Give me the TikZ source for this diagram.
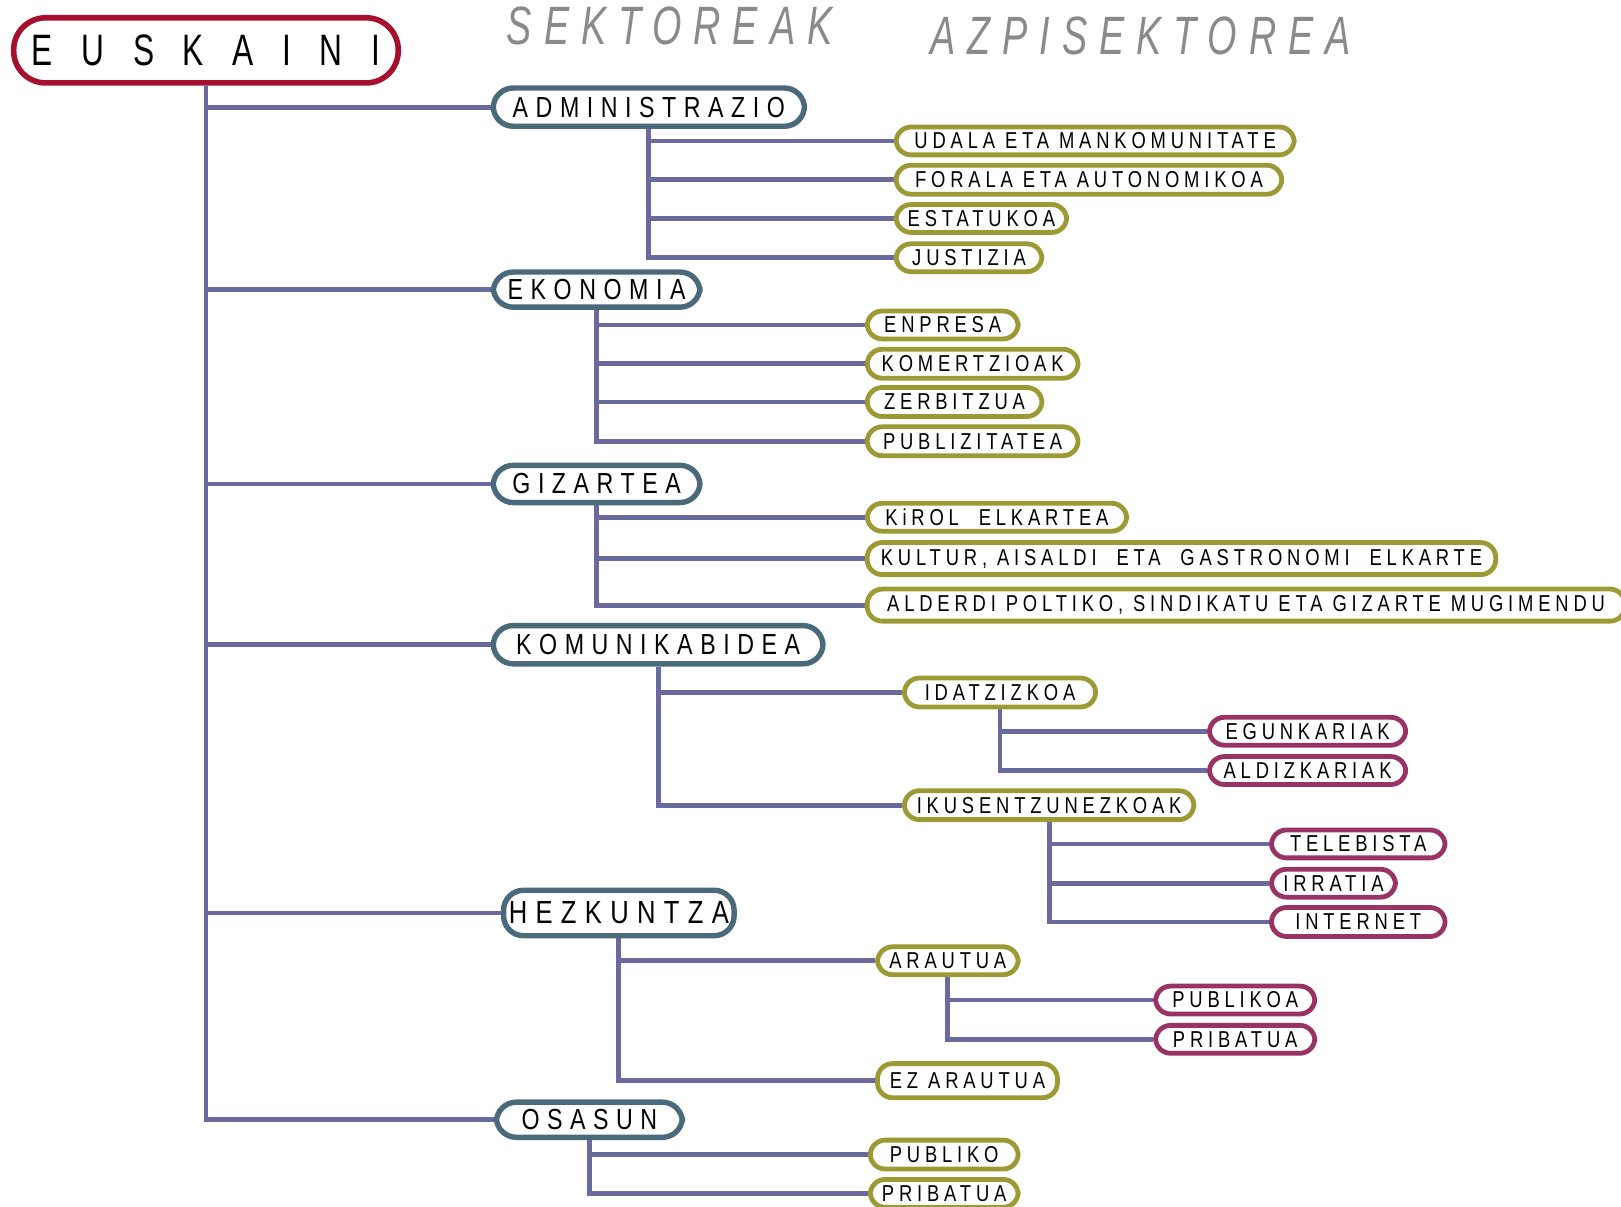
\documentclass[tikz,border=0pt]{standalone}
\usepackage{fontspec}
\setmainfont{Liberation Sans}
\newfontfamily\fEus{Liberation Sans}[FakeStretch=0.72,LetterSpace=65]
\newfontfamily\fSec{Liberation Sans}[FakeStretch=0.8,LetterSpace=26]
\newfontfamily\fSub{Liberation Sans}[FakeStretch=0.8,LetterSpace=21]
\newfontfamily\fHead{Liberation Sans}[FakeStretch=0.7,LetterSpace=22]
\usetikzlibrary{backgrounds}
\definecolor{redC}{RGB}{166,15,45}
\definecolor{secC}{RGB}{74,106,124}
\definecolor{oliveC}{RGB}{156,154,52}
\definecolor{magC}{RGB}{153,51,102}
\definecolor{lineC}{RGB}{107,106,158}
\definecolor{headC}{RGB}{138,138,138}
\newcommand\bx[7]{\node[#2, anchor=north west, minimum width={(#5-#3-5)*0.5169pt}, minimum height={(#6-#4-5)*0.5169pt}] (#1) at (#3+2.5,#4+2.5) {#7};}
\tikzset{
  conn/.style={draw=lineC, line width=2.4pt},
  boxbase/.style={fill=white, inner sep=0pt, text=black},
  eus/.style={boxbase, draw=redC, line width=2.8pt, rounded corners=16pt, font=\fEus\fontsize{22}{24}\selectfont},
  sec/.style={boxbase, draw=secC, line width=2.7pt, rounded corners=10pt, font=\fSec\fontsize{14.5}{16}\selectfont},
  subo/.style={boxbase, draw=oliveC, line width=2.4pt, rounded corners=7.5pt, font=\fSub\fontsize{11.5}{13}\selectfont},
  subm/.style={boxbase, draw=magC, line width=2.4pt, rounded corners=7.5pt, font=\fSub\fontsize{11.5}{13}\selectfont},
  head/.style={text=headC, anchor=west, inner sep=0pt, font=\fHead\itshape\fontsize{27}{30}\selectfont}
}
\begin{document}
\begin{tikzpicture}[x=0.5169pt,y=-0.5169pt]
\useasboundingbox (0,0) rectangle (1568,1167);
\clip (0,0) rectangle (1568,1167);
% headers
\node[head] (sek) at (490,25) {SEKTOREAK};
\node[head] (azp) at (900,35) {AZPISEKTOREA};
% root
\bx{eus}{eus}{8}{12}{385}{80}{EUSKAINI}
% sectors
\bx{adm}{sec}{472}{80}{778}{122}{ADMINISTRAZIO}
\bx{eko}{sec}{472}{258}{677}{297}{EKONOMIA}
\bx{giz}{sec}{472}{445}{677}{486}{GIZARTEA}
\bx{kom}{sec}{472}{600}{796}{642}{KOMUNIKABIDEA}
\bx{hez}{sec,font=\fSec\fontsize{16}{18}\selectfont}{482}{856}{710}{905}{HEZKUNTZA}
\bx{osa}{sec}{475}{1061}{660}{1100}{OSASUN}
% subsectors
\bx{udala}{subo}{862}{118}{1252}{150}{UDALA ETA MANKOMUNITATE}
\bx{foral}{subo}{862}{155}{1240}{188}{FORALA ETA AUTONOMIKOA}
\bx{estat}{subo}{862}{193}{1032}{225}{ESTATUKOA}
\bx{just}{subo}{862}{231}{1008}{263}{JUSTIZIA}
\bx{enpr}{subo}{834}{296}{985}{328}{ENPRESA}
\bx{kome}{subo}{834}{333}{1043}{366}{KOMERTZIOAK}
\bx{zerb}{subo}{834}{370}{1008}{403}{ZERBITZUA}
\bx{publ}{subo}{834}{408}{1043}{441}{PUBLIZITATEA}
\bx{kirol}{subo}{834}{482}{1090}{514}{KiROL\ \ ELKARTEA}
\bx{kult}{subo}{834}{520}{1447}{556}{KULTUR, AISALDI\ \ ETA\ \ GASTRONOMI\ \ ELKARTE}
\bx{alder}{subo}{834}{565}{1572}{601}{ALDERDI POLTIKO, SINDIKATU ETA GIZARTE MUGIMENDU}
\bx{idat}{subo}{870}{651}{1060}{684}{IDATZIZKOA}
\bx{ikus}{subo}{870}{760}{1155}{793}{IKUSENTZUNEZKOAK}
\bx{egun}{subm}{1165}{689}{1360}{721}{EGUNKARIAK}
\bx{aldiz}{subm}{1165}{727}{1360}{759}{ALDIZKARIAK}
\bx{tele}{subm}{1225}{798}{1398}{830}{TELEBISTA}
\bx{irra}{subm}{1225}{836}{1350}{868}{IRRATIA}
\bx{inte}{subm}{1225}{873}{1398}{906}{INTERNET}
\bx{arau}{subo}{844}{911}{985}{943}{ARAUTUA}
\bx{ezar}{subo}{844}{1024}{1023}{1062}{EZ ARAUTUA}
\bx{hpub}{subm}{1113}{949}{1272}{981}{PUBLIKOA}
\bx{hpri}{subm}{1113}{987}{1272}{1019}{PRIBATUA}
\bx{opub}{subo}{837}{1098}{985}{1131}{PUBLIKO}
\bx{opri}{subo}{837}{1136}{985}{1168}{PRIBATUA}
% connectors
\begin{scope}[on background layer]
\foreach \c in {adm,eko,giz,kom,hez,osa} \draw[conn] (eus.south) |- (\c.west);
\foreach \c in {udala,foral,estat,just} \draw[conn] (adm.south) |- (\c.west);
\foreach \c in {enpr,kome,zerb,publ} \draw[conn] (eko.south) |- (\c.west);
\foreach \c in {kirol,kult,alder} \draw[conn] (giz.south) |- (\c.west);
\foreach \c in {idat,ikus} \draw[conn] (kom.south) |- (\c.west);
\foreach \c in {egun,aldiz} \draw[conn] (idat.south) |- (\c.west);
\foreach \c in {tele,irra,inte} \draw[conn] (ikus.south) |- (\c.west);
\foreach \c in {arau,ezar} \draw[conn] (hez.south) |- (\c.west);
\foreach \c in {hpub,hpri} \draw[conn] (arau.south) |- (\c.west);
\foreach \c in {opub,opri} \draw[conn] (osa.south) |- (\c.west);
\end{scope}
\end{tikzpicture}
\end{document}
